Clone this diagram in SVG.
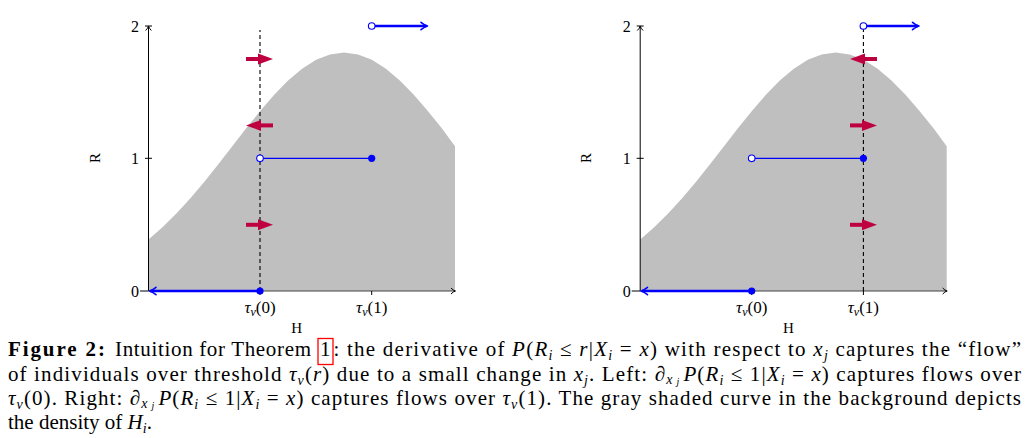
<svg xmlns="http://www.w3.org/2000/svg" width="1030" height="438" viewBox="0 0 1030 438" font-family="'Liberation Serif', 'Times New Roman', Times, Tinos, 'DejaVu Serif', serif">
<style>
text{font-family:"Liberation Serif","Times New Roman",Times,Tinos,"DejaVu Serif",serif}
.lbl{font-size:15px;fill:#000}
.num{font-size:16px;fill:#000}
.tau{font-size:17px;fill:#000}
.cap{font-size:21px;fill:#000}
.it{font-style:italic}
.sub{font-style:italic;font-size:14px}
.sub2{font-style:italic;font-size:10px}
.tsub{font-style:italic;font-size:12px}
.ax{stroke:#000;stroke-width:1;fill:none}
.xax{stroke:#444;stroke-width:1.2;fill:none}
.curve{fill:#bfbfbf;stroke:none}
.dash{stroke:#000;stroke-width:1.1;stroke-dasharray:4 3;fill:none}
.bthick{stroke:#0000ff;stroke-width:2.4;fill:none}
.bthin{stroke:#0000ff;stroke-width:1.2;fill:none}
.tip{stroke:#0000ff;stroke-width:1.6;fill:none;stroke-linecap:round;stroke-linejoin:round}
.dot{fill:#0000ff}
.odot{fill:#fff;stroke:#0000ff;stroke-width:1.1}
.red{fill:#bf0040}
</style>
<defs>
<path id="dens" class="curve" d="M148.5,291 L148.5,239.4 L162.5,227.3 L176.4,213.6 L190.4,198.3 L204.4,181.8 L218.3,164.3 L232.3,146.3 L246.2,128.3 L260.2,111 L274.2,94.8 L288.1,80.5 L302.1,68.7 L316.1,59.8 L330,54.4 L344,52.5 L358,54.4 L371.9,59.8 L385.9,68.7 L399.8,80.5 L413.8,94.8 L427.8,111 L441.8,128.3 L455,146.3 L455,291 Z"/>
<g id="flow">
<rect x="-27" y="-2" width="13" height="4"/>
<polygon points="0,0 -15,-5.5 -15,5.5"/>
</g>
</defs>

<g id="plot-left">
<use href="#dens"/>
<g id="axes-left">
<line class="ax" x1="148.5" y1="291" x2="148.5" y2="26"/>
<path class="ax" d="M145.6,30.5 Q148,28.2 148.5,26 Q149,28.2 151.4,30.5"/>
<line class="ax" x1="145" y1="26" x2="152" y2="26"/>
<line class="ax" x1="145" y1="158.3" x2="152" y2="158.3"/>
<line class="ax" x1="140" y1="291" x2="148.5" y2="291"/>
<line class="xax" x1="148.5" y1="291" x2="455" y2="291"/>
<path class="ax" d="M451,288 Q453.2,290.5 455.5,291 Q453.2,291.5 451,294"/>
<line class="ax" x1="260" y1="291" x2="260" y2="295"/>
<line class="ax" x1="371.7" y1="291" x2="371.7" y2="295"/>
<text class="num" x="139" y="31.5" text-anchor="end">2</text>
<text class="num" x="139" y="163.8" text-anchor="end">1</text>
<text class="num" x="139" y="296.5" text-anchor="end">0</text>
<text class="tau" x="260" y="313" text-anchor="middle"><tspan class="it">τ</tspan><tspan class="tsub" dy="3">v</tspan><tspan dy="-3">(0)</tspan></text>
<text class="tau" x="371.7" y="313" text-anchor="middle"><tspan class="it">τ</tspan><tspan class="tsub" dy="3">v</tspan><tspan dy="-3">(1)</tspan></text>
<text class="lbl" x="296.7" y="333" text-anchor="middle">H</text>
<text class="lbl" transform="translate(99.5,158) rotate(-90)" text-anchor="middle">R</text>
</g>
<line class="dash" x1="260" y1="291" x2="260" y2="30"/>
<g id="flows-left" class="red">
<use href="#flow" transform="translate(273,59)"/>
<use href="#flow" transform="translate(246,125.4) rotate(180)"/>
<use href="#flow" transform="translate(273,224.8)"/>
</g>
<g id="steps-left">
<line class="bthick" x1="260" y1="291" x2="150" y2="291"/>
<path class="tip" d="M156,287.3 Q152.5,290.2 149.5,291 Q152.5,291.8 156,294.7"/>
<circle class="dot" cx="260" cy="291" r="3.6"/>
<line class="bthin" x1="260" y1="158.3" x2="371.7" y2="158.3"/>
<circle class="odot" cx="260" cy="158.3" r="3.3"/>
<circle class="dot" cx="371.7" cy="158.3" r="3.6"/>
<line class="bthick" x1="371.7" y1="26" x2="426.5" y2="26"/>
<path class="tip" d="M421,22.3 Q424.5,25.2 427.5,26 Q424.5,26.8 421,29.7"/>
<circle class="odot" cx="371.7" cy="26" r="3.3"/>
</g>
</g>

<g id="plot-right">
<use href="#dens" transform="translate(491.7,0)"/>
<g id="axes-right" transform="translate(491.7,0)">
<line class="ax" x1="148.5" y1="291" x2="148.5" y2="26"/>
<path class="ax" d="M145.6,30.5 Q148,28.2 148.5,26 Q149,28.2 151.4,30.5"/>
<line class="ax" x1="145" y1="26" x2="152" y2="26"/>
<line class="ax" x1="145" y1="158.3" x2="152" y2="158.3"/>
<line class="ax" x1="140" y1="291" x2="148.5" y2="291"/>
<line class="xax" x1="148.5" y1="291" x2="455" y2="291"/>
<path class="ax" d="M451,288 Q453.2,290.5 455.5,291 Q453.2,291.5 451,294"/>
<line class="ax" x1="260" y1="291" x2="260" y2="295"/>
<line class="ax" x1="371.7" y1="291" x2="371.7" y2="295"/>
<text class="num" x="139" y="31.5" text-anchor="end">2</text>
<text class="num" x="139" y="163.8" text-anchor="end">1</text>
<text class="num" x="139" y="296.5" text-anchor="end">0</text>
<text class="tau" x="260" y="313" text-anchor="middle"><tspan class="it">τ</tspan><tspan class="tsub" dy="3">v</tspan><tspan dy="-3">(0)</tspan></text>
<text class="tau" x="371.7" y="313" text-anchor="middle"><tspan class="it">τ</tspan><tspan class="tsub" dy="3">v</tspan><tspan dy="-3">(1)</tspan></text>
<text class="lbl" x="296.7" y="333" text-anchor="middle">H</text>
<text class="lbl" transform="translate(99.5,158) rotate(-90)" text-anchor="middle">R</text>
</g>
<line class="dash" x1="863.4" y1="291" x2="863.4" y2="29"/>
<g id="flows-right" class="red">
<use href="#flow" transform="translate(850,59) rotate(180)"/>
<use href="#flow" transform="translate(877,125.4)"/>
<use href="#flow" transform="translate(877,224.8)"/>
</g>
<g id="steps-right">
<line class="bthick" x1="751.7" y1="291" x2="642" y2="291"/>
<path class="tip" d="M647.5,287.3 Q644,290.2 641,291 Q644,291.8 647.5,294.7"/>
<circle class="dot" cx="751.7" cy="291" r="3.6"/>
<line class="bthin" x1="751.7" y1="158.3" x2="863.4" y2="158.3"/>
<circle class="odot" cx="751.7" cy="158.3" r="3.3"/>
<circle class="dot" cx="863.4" cy="158.3" r="3.6"/>
<line class="bthick" x1="863.4" y1="26" x2="918" y2="26"/>
<path class="tip" d="M912.5,22.3 Q916,25.2 919,26 Q916,26.8 912.5,29.7"/>
<circle class="odot" cx="863.4" cy="26" r="3.3"/>
</g>
</g>

<g id="caption">
<text class="cap" x="8" y="356" font-weight="bold" textLength="97" lengthAdjust="spacing">Figure 2:</text>
<text class="cap" x="115" y="356" textLength="196" lengthAdjust="spacing">Intuition for Theorem</text>
<text class="cap" x="320" y="356">1</text>
<rect x="318" y="338.5" width="15" height="26" fill="none" stroke="#ff0000" stroke-width="1.3"/>
<text class="cap" x="333.5" y="356">:</text>
<text class="cap" x="347" y="356" textLength="674" lengthAdjust="spacing">the derivative of <tspan class="it">P</tspan>(<tspan class="it">R</tspan><tspan class="sub" dy="4">i</tspan><tspan dy="-4"> ≤ </tspan><tspan class="it">r</tspan>|<tspan class="it">X</tspan><tspan class="sub" dy="4">i</tspan><tspan dy="-4"> = </tspan><tspan class="it">x</tspan>) with respect to <tspan class="it">x</tspan><tspan class="sub" dy="4">j</tspan><tspan dy="-4"> captures the “flow”</tspan></text>
<text class="cap" x="8" y="380.5" textLength="1013" lengthAdjust="spacing">of individuals over threshold <tspan class="it">τ</tspan><tspan class="sub" dy="4">v</tspan><tspan dy="-4">(</tspan><tspan class="it">r</tspan>) due to a small change in <tspan class="it">x</tspan><tspan class="sub" dy="4">j</tspan><tspan dy="-4">. Left: ∂</tspan><tspan class="sub" dy="3">x</tspan><tspan class="sub2" dx="3" dy="1">j</tspan><tspan class="it" dx="3" dy="-4">P</tspan>(<tspan class="it">R</tspan><tspan class="sub" dy="4">i</tspan><tspan dy="-4"> ≤ 1|</tspan><tspan class="it">X</tspan><tspan class="sub" dy="4">i</tspan><tspan dy="-4"> = </tspan><tspan class="it">x</tspan>) captures flows over</text>
<text class="cap" x="8" y="405" textLength="1013" lengthAdjust="spacing"><tspan class="it">τ</tspan><tspan class="sub" dy="4">v</tspan><tspan dy="-4">(0). Right: ∂</tspan><tspan class="sub" dy="3">x</tspan><tspan class="sub2" dx="3" dy="1">j</tspan><tspan class="it" dx="3" dy="-4">P</tspan>(<tspan class="it">R</tspan><tspan class="sub" dy="4">i</tspan><tspan dy="-4"> ≤ 1|</tspan><tspan class="it">X</tspan><tspan class="sub" dy="4">i</tspan><tspan dy="-4"> = </tspan><tspan class="it">x</tspan>) captures flows over <tspan class="it">τ</tspan><tspan class="sub" dy="4">v</tspan><tspan dy="-4">(1). The gray shaded curve in the background depicts</tspan></text>
<text class="cap" x="8" y="429">the density of <tspan class="it">H</tspan><tspan class="sub" dy="4">i</tspan><tspan dy="-4">.</tspan></text>
</g>
</svg>
